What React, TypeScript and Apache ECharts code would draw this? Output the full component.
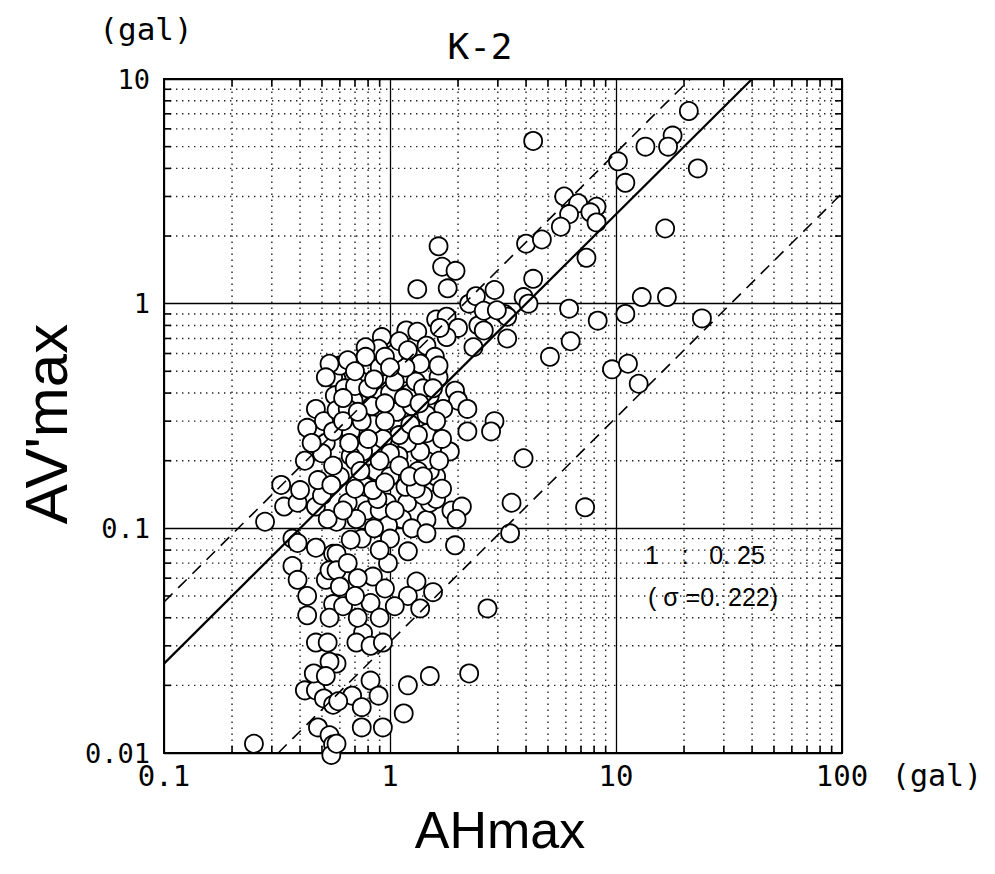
import React, { useEffect, useRef } from 'react';
import * as echarts from 'echarts';

// ---- axis / tick definitions ----
const xTickLabels = ['0.1', '1', '10', '100'];
const yTickLabels = ['0.01', '0.1', '1', '10'];
const xDecades = [0.1, 1, 10];
const yDecades = [0.01, 0.1, 1];
const minorMultipliers = [2, 3, 4, 5, 6, 7, 8, 9];

// ---- observations (AHmax gal, AV'max gal) ----
const sparsePoints: number[][] = [
  [4.3, 5.3], [21, 7.2], [17.8, 5.6], [17, 5.0], [13.5, 5.0], [10.2, 4.3], [23, 4.0],
  [11, 3.45], [5.9, 3.0], [6.8, 2.8], [6.2, 2.5], [8.2, 2.7], [7.7, 2.55], [8.2, 2.3],
  [5.7, 2.2], [16.5, 2.16], [4.0, 1.85], [4.7, 1.93], [7.4, 1.6], [4.3, 1.29],
  [2.9, 1.15], [3.9, 1.07], [4.1, 1.0], [13, 1.07], [16.8, 1.07], [6.2, 0.95],
  [11, 0.9], [8.3, 0.84], [24, 0.86], [2.6, 0.93], [3.3, 0.875], [2.97, 0.935],
  [2.6, 0.76], [3.3, 0.70], [6.3, 0.68], [5.1, 0.58], [9.6, 0.51], [11.3, 0.54],
  [12.6, 0.44], [2.9, 0.30], [2.8, 0.27], [3.9, 0.205], [3.45, 0.13], [7.3, 0.124],
  [3.4, 0.095], [2.7, 0.044], [2.24, 0.0226],
];

const upperClusterPoints: number[][] = [
  [1.64, 1.8], [1.7, 1.46], [1.95, 1.4], [1.8, 1.17], [1.32, 1.16], [2.24, 1.0],
  [2.4, 1.08], [3.2, 0.9], [2.46, 0.8], [1.6, 0.85], [1.78, 0.875], [2.0, 0.78],
  [1.78, 0.71], [1.66, 0.78], [2.34, 0.64], [1.18, 0.76], [1.32, 0.75], [1.45, 0.65],
  [1.58, 0.58], [1.64, 0.53], [1.36, 0.54], [1.17, 0.52], [0.92, 0.71], [0.89, 0.63],
  [0.78, 0.64], [0.78, 0.58], [0.9, 0.52], [0.6, 0.53], [0.54, 0.54], [0.52, 0.47],
  [0.65, 0.56], [0.7, 0.5], [1.05, 0.6], [1.1, 0.68], [0.95, 0.58], [1.2, 0.62],
  [1.0, 0.52], [0.85, 0.46],
];

const middleClusterPoints: number[][] = [
  [0.58, 0.46], [0.69, 0.37], [0.87, 0.39], [0.9, 0.48], [1.17, 0.49], [1.23, 0.40],
  [1.5, 0.39], [1.64, 0.47], [1.94, 0.41], [2.0, 0.37], [2.2, 0.34], [1.72, 0.34],
  [1.45, 0.32], [2.2, 0.27], [1.45, 0.265], [1.84, 0.22], [1.6, 0.17], [1.5, 0.18],
  [1.45, 0.2], [1.36, 0.22], [1.19, 0.24], [1.1, 0.26], [1.09, 0.21], [1.17, 0.153],
  [1.33, 0.18], [0.93, 0.25], [0.84, 0.29], [0.83, 0.35], [0.67, 0.27], [0.6, 0.17],
  [0.76, 0.22], [0.78, 0.153], [0.84, 0.148], [0.87, 0.18], [0.67, 0.21], [1.0, 0.216],
  [1.07, 0.33], [1.23, 0.29], [1.33, 0.26], [0.56, 0.47], [0.57, 0.39], [0.47, 0.34],
  [0.51, 0.30], [0.43, 0.28], [0.52, 0.24], [0.50, 0.216], [0.42, 0.2], [0.48, 0.164],
  [0.33, 0.156], [0.40, 0.148], [0.55, 0.156], [0.56, 0.19], [0.56, 0.27], [0.58, 0.336],
  [0.75, 0.45], [0.63, 0.42], [0.7, 0.43], [0.8, 0.42], [0.65, 0.34], [0.75, 0.3],
  [0.62, 0.3], [0.8, 0.25], [0.95, 0.3], [1.0, 0.4], [1.05, 0.45], [1.3, 0.45],
  [1.4, 0.42], [1.25, 0.35], [1.6, 0.3], [1.7, 0.25], [1.3, 0.15], [1.0, 0.17],
  [0.9, 0.2], [0.7, 0.15], [0.7, 0.2], [0.62, 0.38], [0.72, 0.33], [0.95, 0.36],
  [1.15, 0.38], [1.35, 0.36], [1.55, 0.42], [0.66, 0.24], [0.74, 0.18], [0.95, 0.16],
  [1.1, 0.19], [1.22, 0.17], [1.4, 0.17], [1.7, 0.15], [1.65, 0.2], [0.45, 0.24],
];

const lowerClusterPoints: number[][] = [
  [1.87, 0.12], [2.08, 0.125], [1.97, 0.11], [1.19, 0.13], [1.13, 0.11], [1.45, 0.109],
  [1.5, 0.13], [1.6, 0.135], [0.79, 0.12], [0.97, 0.13], [0.9, 0.12], [0.98, 0.103],
  [0.58, 0.107], [0.71, 0.11], [0.34, 0.125], [0.28, 0.107], [0.39, 0.13], [0.47, 0.125],
  [0.53, 0.11], [0.65, 0.13], [1.4, 0.14], [1.25, 0.1], [0.75, 0.09], [0.85, 0.1],
  [1.0, 0.09], [0.37, 0.09], [0.39, 0.086], [0.47, 0.082], [0.56, 0.077], [0.37, 0.068],
  [0.39, 0.059], [0.43, 0.05], [0.43, 0.041], [0.52, 0.059], [0.54, 0.065], [0.56, 0.046],
  [0.54, 0.040], [0.47, 0.031], [0.53, 0.031], [0.54, 0.0255], [0.46, 0.0226], [0.52, 0.022],
  [1.94, 0.084], [1.45, 0.095], [1.2, 0.079], [0.98, 0.07], [0.84, 0.061], [0.95, 0.054],
  [0.82, 0.0465], [0.67, 0.089], [0.58, 0.077], [0.58, 0.065], [0.6, 0.055], [0.62, 0.045],
  [0.9, 0.08], [1.31, 0.058], [1.2, 0.05], [1.55, 0.052], [1.36, 0.044], [0.76, 0.0343],
  [0.71, 0.031], [0.82, 0.03], [0.93, 0.031], [0.65, 0.07], [0.72, 0.06], [0.7, 0.05],
  [0.72, 0.04], [1.05, 0.045], [0.9, 0.04], [0.62, 0.12], [0.88, 0.135], [1.05, 0.12],
  [0.5, 0.14],
];

const bottomPoints: number[][] = [
  [0.42, 0.019], [0.47, 0.019], [0.51, 0.0175], [0.56, 0.0164], [0.48, 0.013], [0.54, 0.012],
  [0.56, 0.0109], [0.55, 0.0098], [0.25, 0.011], [0.55, 0.025], [0.58, 0.025], [0.82, 0.021],
  [0.68, 0.018], [0.59, 0.017], [0.75, 0.016], [0.89, 0.018], [0.75, 0.013], [0.93, 0.013],
  [0.58, 0.011], [1.2, 0.020], [1.5, 0.022], [1.15, 0.015],
];

// ---- regression line (1 : 0.25) and its bounds ----
const fitLine = [[0.1, 0.025], [40, 10]];
const upperBound = [[0.1, 0.047], [21.3, 10]];
const lowerBound = [[0.32, 0.01], [100, 3.1]];

const xMinor = xDecades.flatMap((d) => minorMultipliers.map((m) => +(d * m).toPrecision(2)));
const yMinor = yDecades.flatMap((d) => minorMultipliers.map((m) => +(d * m).toPrecision(2)));

const X_MIN = 0.1, X_MAX = 100, Y_MIN = 0.01, Y_MAX = 10;

export default function App() {
  const ref = useRef<HTMLDivElement>(null);
  useEffect(() => {
    if (!ref.current) return;
    const chart = echarts.init(ref.current, null, { renderer: 'svg' });
    const sans = 'Liberation Sans, Arial, sans-serif';
    const mono = 'DejaVu Sans Mono, monospace';
    const allPoints = [...bottomPoints, ...lowerClusterPoints, ...middleClusterPoints, ...upperClusterPoints, ...sparsePoints];
    const centered = { fill: '#000', align: 'center', verticalAlign: 'middle', textAlign: 'center', textVerticalAlign: 'middle' };
    chart.setOption({
      animation: false,
      backgroundColor: '#fff',
      grid: { left: 164, top: 79, width: 678, height: 674, show: true, borderColor: '#000', borderWidth: 2, backgroundColor: 'transparent' },
      xAxis: {
        type: 'log', logBase: 10, min: X_MIN, max: X_MAX, splitNumber: 3,
        axisLine: { show: false },
        axisTick: { show: false },
        splitLine: { show: true, lineStyle: { color: '#000', width: 1.3 } },
        axisLabel: {
          color: '#000', fontSize: 29, fontFamily: mono, margin: 8,
          formatter: (v: number) => xTickLabels[Math.round(Math.log10(v)) + 1],
        },
      },
      yAxis: {
        type: 'log', logBase: 10, min: Y_MIN, max: Y_MAX, splitNumber: 3,
        axisLine: { show: false },
        axisTick: { show: false },
        splitLine: { show: true, lineStyle: { color: '#000', width: 1.3 } },
        axisLabel: {
          color: '#000', fontSize: 27, fontFamily: mono, margin: 14,
          formatter: (v: number) => yTickLabels[Math.round(Math.log10(v)) + 2],
        },
      },
      series: [
        {
          type: 'custom', z: 1, silent: true, clip: false,
          data: xMinor.map((v) => [v, 1]),
          encode: { x: 0, y: 1 },
          renderItem: (_p: any, api: any) => {
            const v = api.value(0);
            const a = api.coord([v, Y_MIN]);
            const b = api.coord([v, Y_MAX]);
            return {
              type: 'group', children: [
                { type: 'line', shape: { x1: a[0], y1: a[1], x2: b[0], y2: b[1] }, style: { stroke: '#222', lineWidth: 1.4, lineDash: [1.4, 4.6] } },
                { type: 'line', shape: { x1: a[0], y1: a[1], x2: a[0], y2: a[1] - 7 }, style: { stroke: '#000', lineWidth: 1.6 } },
                { type: 'line', shape: { x1: b[0], y1: b[1], x2: b[0], y2: b[1] + 7 }, style: { stroke: '#000', lineWidth: 1.6 } },
              ],
            };
          },
        },
        {
          type: 'custom', z: 1, silent: true, clip: false,
          data: yMinor.map((v) => [1, v]),
          encode: { x: 0, y: 1 },
          renderItem: (_p: any, api: any) => {
            const v = api.value(1);
            const a = api.coord([X_MIN, v]);
            const b = api.coord([X_MAX, v]);
            return {
              type: 'group', children: [
                { type: 'line', shape: { x1: a[0], y1: a[1], x2: b[0], y2: b[1] }, style: { stroke: '#222', lineWidth: 1.4, lineDash: [1.4, 4.6] } },
                { type: 'line', shape: { x1: a[0], y1: a[1], x2: a[0] + 7, y2: a[1] }, style: { stroke: '#000', lineWidth: 1.6 } },
                { type: 'line', shape: { x1: b[0], y1: b[1], x2: b[0] - 7, y2: b[1] }, style: { stroke: '#000', lineWidth: 1.6 } },
              ],
            };
          },
        },
        {
          type: 'scatter', z: 2, data: allPoints, symbol: 'circle', symbolSize: 18,
          itemStyle: { color: '#fff', borderColor: '#000', borderWidth: 1.8, opacity: 1 },
          clip: false,
        },
        { type: 'line', z: 3, data: fitLine, showSymbol: false, lineStyle: { color: '#000', width: 2.2 } },
        { type: 'line', z: 3, data: upperBound, showSymbol: false, lineStyle: { color: '#000', width: 1.6, type: [12, 8] } },
        { type: 'line', z: 3, data: lowerBound, showSymbol: false, lineStyle: { color: '#000', width: 1.6, type: [12, 8] } },
      ],
      graphic: [
        { type: 'text', x: 146, y: 29, style: { ...centered, text: '(gal)', fontSize: 31, fontFamily: mono } },
        { type: 'text', x: 480, y: 46, style: { ...centered, text: 'K-2', fontSize: 36, fontFamily: mono } },
        { type: 'text', x: 937, y: 775, style: { ...centered, text: '(gal)', fontSize: 30, fontFamily: mono } },
        { type: 'text', x: 500, y: 830, style: { ...centered, text: 'AHmax', fontSize: 52, fontFamily: sans } },
        { type: 'text', x: 46, y: 424, rotation: Math.PI / 2, style: { ...centered, text: "AV'max", fontSize: 60, fontFamily: sans } },
        { type: 'text', x: 652, y: 555, style: { ...centered, text: '1', fontSize: 25, fontFamily: sans } },
        { type: 'text', x: 685, y: 555, style: { ...centered, text: ':', fontSize: 25, fontFamily: sans } },
        { type: 'text', x: 737, y: 555, style: { ...centered, text: '0. 25', fontSize: 25, fontFamily: sans } },
        { type: 'text', x: 713, y: 597, style: { ...centered, text: '( σ =0. 222)', fontSize: 25, fontFamily: sans } },
      ],
    });
    return () => chart.dispose();
  }, []);
  return <div ref={ref} style={{ position: 'absolute', left: 0, top: 0, width: 995, height: 874 }} />;
}
